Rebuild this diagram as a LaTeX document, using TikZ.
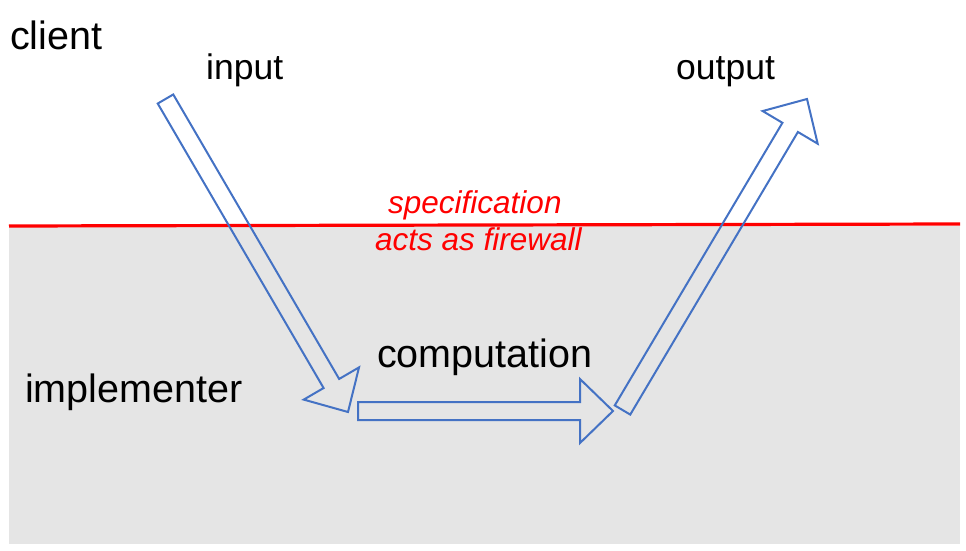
\documentclass[tikz,border=0pt]{standalone}
\usepackage{fontspec}
\setmainfont{Liberation Sans}
\usetikzlibrary{calc}

\definecolor{arrowblue}{RGB}{68,114,196}
\definecolor{implgray}{RGB}{229,229,229}

\tikzset{
  roletext/.style={anchor=base west, inner sep=0pt, font=\fontsize{39.5}{47}\selectfont},
  iotext/.style={anchor=base west, inner sep=0pt, font=\fontsize{35.5}{42}\selectfont},
  spectext/.style={anchor=base west, inner sep=0pt, text=red, font=\fontsize{31.5}{38}\selectfont\itshape},
  blockarrow/.style={draw=arrowblue, line width=2pt, line join=miter}
}

% hollow block arrow from #1 (tail) to #2 (tip)
\newcommand{\blockarrow}[2]{%
  \coordinate (hb) at ($(#2)!33pt!(#1)$);
  \draw[blockarrow] ($(#1)!9pt!90:(#2)$) -- ($(hb)!9pt!90:(#2)$)
    -- ($(hb)!32pt!90:(#2)$) -- (#2) -- ($(hb)!32pt!-90:(#2)$)
    -- ($(hb)!9pt!-90:(#2)$) -- ($(#1)!9pt!-90:(#2)$) -- cycle;
}

\begin{document}
\begin{tikzpicture}[x=1pt,y=-1pt]
\useasboundingbox (0,0) rectangle (966,551);

\fill[implgray] (9,226) rectangle (960,544);
\draw[red, line width=3.2pt] (9,226) -- (960,224);

\node[roletext] (client) at (10,49) {client};
\node[iotext] (input) at (206,80) {input};
\node[iotext] (output) at (676,80) {output};
\node[roletext] (comp) at (377,367) {computation};
\node[roletext] (impl) at (25,402) {implementer};
\node[spectext] (spec) at (388,213) {specification};
\node[spectext] (firewall) at (375,250) {acts as firewall};

\coordinate (inTail) at (165.5,99);
\coordinate (inTip) at (348,412);
\coordinate (compTail) at (358,411);
\coordinate (compTip) at (613,411);
\coordinate (outTail) at (622.5,410);
\coordinate (outTip) at (807,99);

\blockarrow{inTail}{inTip}
\blockarrow{compTail}{compTip}
\blockarrow{outTail}{outTip}

\end{tikzpicture}
\end{document}
